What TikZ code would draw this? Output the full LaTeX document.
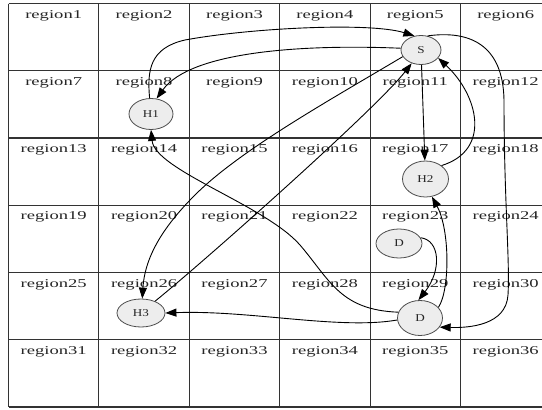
\documentclass[tikz,border=0pt]{standalone}
\usepackage{fontspec}
\setmainfont{Liberation Serif}
\usetikzlibrary{shapes.geometric,arrows.meta}
\begin{document}
\begin{tikzpicture}[x=1pt,y=-1pt,
  gridline/.style={draw=black!80,line width=1.1pt},
  reglabel/.style={anchor=base,inner sep=0pt,font=\fontsize{12}{12}\selectfont,text=black!85},
  vertex/.style={ellipse,draw=black!70,fill=black!7,line width=0.8pt,inner sep=0pt,font=\fontsize{10.5}{10.5}\selectfont,text=black!85},
  edge/.style={draw=black,line width=0.9pt,-{Triangle[length=11pt,width=8pt]}}]
\useasboundingbox (0,0) rectangle (542,410);
\fill[white] (0,0) rectangle (542,410);
\foreach \i in {0,...,6} \draw[gridline] (8.5,3.5+67.25*\i) -- (542,3.5+67.25*\i);
\foreach \j in {0,...,5} \draw[gridline] (8.5+90.4*\j,3.5) -- (8.5+90.4*\j,407);
\foreach \r in {0,...,5} \foreach \c in {0,...,5} {
  \pgfmathtruncatemacro{\n}{6*\r+\c+1}
  \node[reglabel] (r\n) at (53.7+90.4*\c, 18+67.25*\r) {\scalebox{1.55}[1]{region\n}};
}
\node[vertex,minimum width=40pt,minimum height=29pt] (S) at (421,50) {\scalebox{1.25}[1]{S}};
\node[vertex,minimum width=44pt,minimum height=31pt] (H1) at (151,114) {\scalebox{1.25}[1]{H1}};
\node[vertex,minimum width=46pt,minimum height=36pt] (H2) at (425.5,179) {\scalebox{1.25}[1]{H2}};
\node[vertex,minimum width=46pt,minimum height=29pt] (D1) at (399,243.5) {\scalebox{1.25}[1]{D}};
\node[vertex,minimum width=45pt,minimum height=35pt] (D2) at (420,318) {\scalebox{1.25}[1]{D}};
\node[vertex,minimum width=48pt,minimum height=28pt] (H3) at (141,313) {\scalebox{1.25}[1]{H3}};
% H1 -> S (outer)
\draw[edge] (H1.95) .. controls (147,70) and (150,48) .. (185,40) .. controls (250,28) and (370,22) .. (S.115);
% S -> H1 (inner)
\draw[edge] (S.175) .. controls (300,44) and (190,52) .. (H1.70);
% S -> H2
\draw[edge] (S) -- (H2);
% H2 -> S
\draw[edge] (H2.40) .. controls (492,150) and (478,95) .. (S.-25);
% S -> D2
\draw[edge] (S.65) .. controls (470,30) and (503,45) .. (504,100) .. controls (504,200) and (510,260) .. (508,295) .. controls (506,325) and (470,328) .. (D2.-25);
% H3 -> S
\draw[edge] (H3.40) .. controls (200,265) and (375,110) .. (S.-125);
% S -> H3
\draw[edge] (S.-160) .. controls (330,100) and (240,150) .. (195,195) .. controls (165,225) and (145,255) .. (H3.85);
% D2 -> H1
\draw[edge] (D2.165) .. controls (340,310) and (330,280) .. (300,245) .. controls (265,205) and (155,170) .. (H1.south);
% D2 -> H3
\draw[edge] (D2.185) .. controls (340,330) and (250,310) .. (H3.east);
% D1 -> D2
\draw[edge] (D1.15) .. controls (440,240) and (442,270) .. (D2.95);
% D2 -> H2
\draw[edge] (D2.30) .. controls (450,290) and (450,230) .. (H2.-70);
\end{tikzpicture}
\end{document}
